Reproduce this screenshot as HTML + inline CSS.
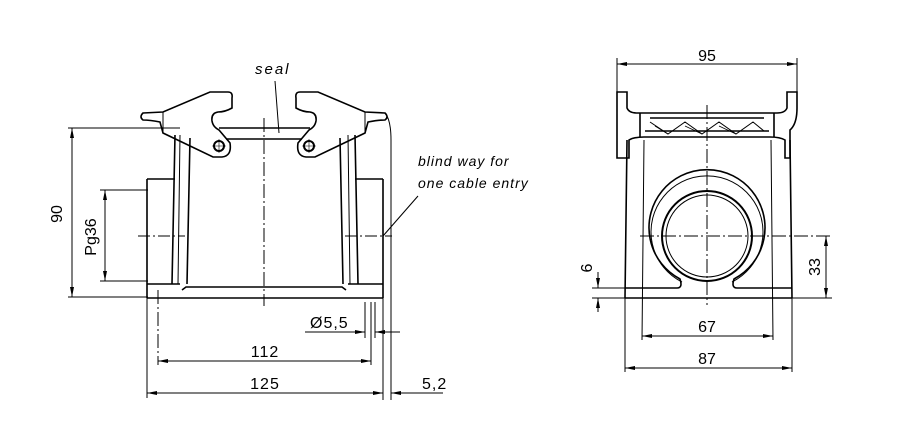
<!DOCTYPE html>
<html><head><meta charset="utf-8"><style>
html,body{margin:0;padding:0;background:#fff;}
svg{display:block}
text{font-family:"Liberation Sans",sans-serif;fill:#000}
</style></head><body>
<svg width="898" height="432" viewBox="0 0 898 432" xmlns="http://www.w3.org/2000/svg">
<defs>
<marker id="a" viewBox="0 0 10 4" refX="10" refY="2" markerWidth="10" markerHeight="4" orient="auto-start-reverse" markerUnits="userSpaceOnUse"><path d="M0,0 L10,2 L0,4z" fill="#000"/></marker>
</defs>
<g stroke="#000" fill="none" stroke-width="1">
<line x1="264" y1="118" x2="264" y2="306" stroke-dasharray="14,3,2,3"/>
<line x1="68" y1="128" x2="180" y2="128"/>
<line x1="68" y1="297" x2="148" y2="297"/>
<line x1="72" y1="128" x2="72" y2="297" marker-start="url(#a)" marker-end="url(#a)"/>
<line x1="100" y1="190" x2="148" y2="190"/>
<line x1="100" y1="281" x2="148" y2="281"/>
<line x1="105" y1="190" x2="105" y2="281" marker-start="url(#a)" marker-end="url(#a)"/>
<g stroke-width="1.6">
<path d="M147,179 H175 M147,179 V298 M383,179 V298 M355,179 H383"/>
<path d="M147,298 H383 M147,284 H180 M348,284 H383"/>
<path d="M182,290 L186,287 H342 L346,290" />
<path d="M175,135 L172,284 M190,138 L187,284"/>
<path d="M340,138 L343,284 M355,135 L358,284"/>
<path d="M143,113 L163,112 L210,92 H228 Q233,92 232,98 L232,108 Q225,112 218,112 Q211,113 212,121 Q213,127 219,130 L230,143 Q232,156 222,157 L213,157 L163,133 L160,122 Q150,120 143,120 Q139,117 143,113Z"/>
<path d="M385,113 L365,112 L318,92 H300 Q295,92 296,98 L296,108 Q303,112 310,112 Q317,113 316,121 Q315,127 309,130 L298,143 Q296,156 306,157 L315,157 L365,133 L368,122 Q378,120 385,120 Q389,117 385,113Z"/>
<path d="M219,128 H310 M226,139 H302"/>
</g>
<circle cx="219" cy="146" r="5" stroke-width="2"/>
<circle cx="309" cy="146" r="5" stroke-width="2"/>
<path d="M212,146 H226 M219,139 V153 M302,146 H316 M309,139 V153" stroke-width="0.6"/>
<path d="M163,112 V133 M365,112 V133"/>
<path d="M180,135 L178,284 M348,135 L350,284"/>
<path d="M385,113 Q391,120 391,140 V330 M383,298 V330"/>
<line x1="138" y1="236" x2="185" y2="236" stroke-dasharray="12,3,2,3"/>
<line x1="345" y1="236" x2="392" y2="236" stroke-dasharray="12,3,2,3"/>
<line x1="158" y1="290" x2="158" y2="365" stroke-dasharray="14,3,2,3"/>
<line x1="275" y1="81" x2="279" y2="133"/>
<line x1="418" y1="196" x2="383" y2="236"/>
<path d="M365,302 V338 M371,302 V365 M375,302 V338 M383,330 V400 M391,330 V400"/>
<line x1="305" y1="332" x2="365" y2="332"/>
<line x1="355" y1="332" x2="365" y2="332" marker-end="url(#a)"/>
<line x1="385" y1="332" x2="375" y2="332" marker-end="url(#a)"/>
<line x1="385" y1="332" x2="400" y2="332"/>
<line x1="158" y1="361" x2="371" y2="361" marker-start="url(#a)" marker-end="url(#a)"/>
<path d="M147,298 V398"/>
<line x1="147" y1="393" x2="383" y2="393" marker-start="url(#a)" marker-end="url(#a)"/>
<line x1="405" y1="393" x2="391" y2="393" marker-end="url(#a)"/>
<line x1="400" y1="393" x2="443" y2="393"/>

<!-- RIGHT VIEW -->
<line x1="617" y1="58" x2="617" y2="95"/>
<line x1="797" y1="58" x2="797" y2="95"/>
<line x1="617" y1="64" x2="797" y2="64" marker-start="url(#a)" marker-end="url(#a)"/>
<line x1="707" y1="105" x2="707" y2="305" stroke-dasharray="14,3,2,3"/>
<g stroke-width="1.6">
<path d="M617,92 H627 V108 Q629,113 637,113 H777 Q785,113 787,108 V92 H797 V108 Q797,124 790,130 L790,158 H785 V140 Q780,137 770,137 H644 Q634,137 629,140 V158 H617 V130 Q617,124 617,108Z"/>
<path d="M640,113 V137 M774,113 V137 M650,118 H764 M645,131 H769"/>
<path d="M650,122 L668,134 L685,122 L702,134 L719,122 L736,134 L753,122 L764,131" stroke-width="1"/>
<path d="M655,126 L668,134 M685,126 L702,134 M719,126 L736,134" stroke-width="0.8"/>
<path d="M627,140 L625,298 M790,140 L792,298 M625,298 H792 M625,288 H677 M737,288 H792"/>
<path d="M677,288 Q683,288 680,279 A58,58 0 1 1 734,279 Q731,288 737,288"/>
</g>
<path d="M682,282 A56,56 0 1 1 732,282"/>
<circle cx="707" cy="236" r="45" stroke-width="2"/>
<circle cx="707" cy="236" r="41"/>
<line x1="640" y1="236" x2="832" y2="236" stroke-dasharray="14,3,2,3"/>
<path d="M644,140 L642,340 M771,140 L773,340"/>
<path d="M625,298 V372 M792,298 V372"/>
<line x1="790" y1="298" x2="832" y2="298"/>
<line x1="826" y1="236" x2="826" y2="298" marker-start="url(#a)" marker-end="url(#a)"/>
<path d="M592,288 H625 M592,298 H625"/>
<line x1="598" y1="272" x2="598" y2="288" marker-end="url(#a)"/>
<line x1="598" y1="312" x2="598" y2="298" marker-end="url(#a)"/>
<line x1="642" y1="336" x2="773" y2="336" marker-start="url(#a)" marker-end="url(#a)"/>
<line x1="625" y1="368" x2="792" y2="368" marker-start="url(#a)" marker-end="url(#a)"/>
</g>
<g font-size="16">
<text x="62" y="214" transform="rotate(-90 62 214)" text-anchor="middle">90</text>
<text x="96" y="237" transform="rotate(-90 96 237)" text-anchor="middle">Pg36</text>
<text x="255" y="74" font-style="italic" font-size="15" letter-spacing="2">seal</text>
<text x="418" y="166" font-style="italic" font-size="14" letter-spacing="1">blind way for</text>
<text x="418" y="188" font-style="italic" font-size="14" letter-spacing="1">one cable entry</text>
<text x="310" y="328" letter-spacing="1">Ø5,5</text>
<text x="265" y="357" text-anchor="middle" letter-spacing="1">112</text>
<text x="265" y="389" text-anchor="middle" letter-spacing="1">125</text>
<text x="422" y="389" letter-spacing="1">5,2</text>
<text x="707" y="61" text-anchor="middle">95</text>
<text x="707" y="332" text-anchor="middle">67</text>
<text x="707" y="364" text-anchor="middle">87</text>
<text x="820" y="267" transform="rotate(-90 820 267)" text-anchor="middle">33</text>
<text x="592" y="268" transform="rotate(-90 592 268)" text-anchor="middle">6</text>
</g>
</svg>
</body></html>
